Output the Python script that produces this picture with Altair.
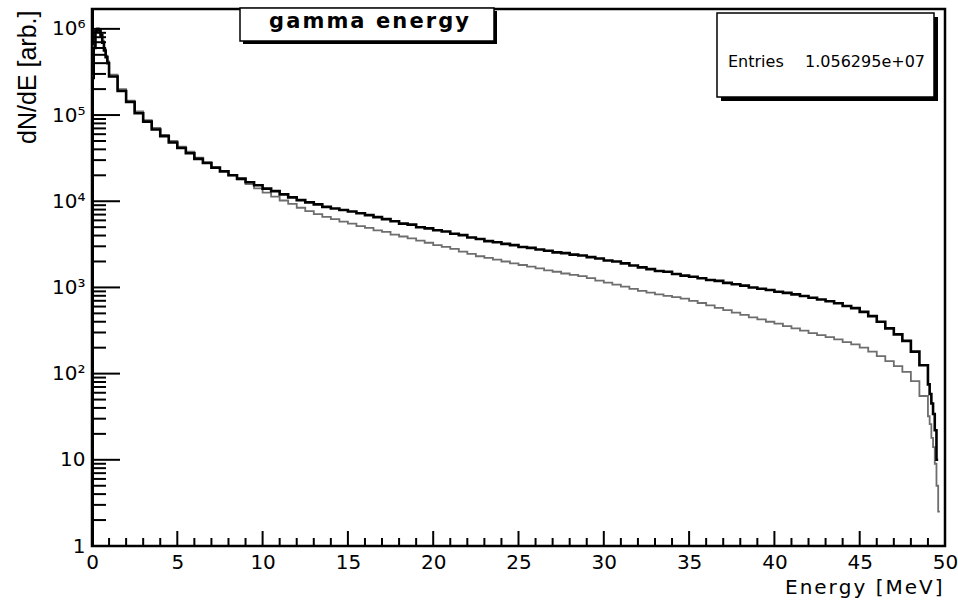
import altair as alt
import numpy as np
import pandas as pd

# ---------------- data ----------------
# bin low edges [MeV]
edges_fine = [0.0, 0.1, 0.2, 0.3, 0.4, 0.5, 0.6, 0.7, 0.8, 0.9]
edges_mid = [round(1.0 + 0.5 * i, 2) for i in range(96)]          # 1.0 ... 48.5
black_tail_edges = [49.0, 49.1, 49.2, 49.3, 49.4, 49.5]
gray_tail_edges = [49.0, 49.1, 49.2, 49.3, 49.4, 49.5, 49.6]
black_end = 49.6
gray_end = 49.7

black_fine = [2.7e5, 6.0e5, 9.4e5, 9.9e5, 9.6e5, 8.4e5, 6.9e5, 5.6e5, 4.7e5, 4.0e5]
gray_fine = [2.8e5, 6.3e5, 9.7e5, 1.02e6, 9.9e5, 8.8e5, 7.3e5, 5.9e5, 4.9e5, 4.2e5]

black_mid = [
    2.8e5, 1.9e5, 1.42e5, 1.05e5, 8.4e4, 6.8e4, 5.7e4, 4.8e4, 4.15e4, 3.6e4,
    3.1e4, 2.78e4, 2.45e4, 2.22e4, 2.0e4, 1.83e4, 1.66e4, 1.53e4, 1.4e4, 1.31e4,
    1.2e4, 1.11e4, 1.03e4, 9.7e3, 9.2e3, 8.6e3, 8.25e3, 7.9e3, 7.6e3, 7.25e3,
    6.9e3, 6.55e3, 6.2e3, 5.85e3, 5.5e3, 5.35e3, 5.0e3, 4.85e3, 4.6e3, 4.45e3,
    4.2e3, 4.05e3, 3.8e3, 3.65e3, 3.45e3, 3.35e3, 3.2e3, 3.1e3, 2.95e3, 2.88e3,
    2.75e3, 2.66e3, 2.55e3, 2.5e3, 2.4e3, 2.35e3, 2.25e3, 2.17e3, 2.05e3, 2.0e3,
    1.9e3, 1.8e3, 1.71e3, 1.63e3, 1.55e3, 1.52e3, 1.43e3, 1.37e3, 1.33e3, 1.28e3,
    1.22e3, 1.19e3, 1.13e3, 1.09e3, 1.05e3, 1.0e3, 965, 935, 890, 865,
    830, 795, 760, 725, 690, 655, 610, 575, 520, 465,
    400, 335, 285, 240, 180, 125,
]
gray_mid = [
    2.95e5, 2.0e5, 1.47e5, 1.1e5, 8.7e4, 7.1e4, 5.9e4, 5.0e4, 4.3e4, 3.75e4,
    3.2e4, 2.85e4, 2.5e4, 2.25e4, 2.0e4, 1.78e4, 1.58e4, 1.41e4, 1.26e4, 1.13e4,
    1.02e4, 9.3e3, 8.4e3, 7.7e3, 7.1e3, 6.6e3, 6.2e3, 5.8e3, 5.5e3, 5.15e3,
    4.9e3, 4.6e3, 4.4e3, 4.1e3, 3.9e3, 3.7e3, 3.5e3, 3.3e3, 3.1e3, 2.95e3,
    2.8e3, 2.6e3, 2.45e3, 2.3e3, 2.2e3, 2.1e3, 2.0e3, 1.9e3, 1.82e3, 1.74e3,
    1.66e3, 1.58e3, 1.52e3, 1.45e3, 1.4e3, 1.35e3, 1.28e3, 1.2e3, 1.14e3, 1.08e3,
    1.02e3, 960, 910, 870, 830, 800, 770, 740, 700, 660,
    620, 580, 545, 510, 480, 450, 425, 400, 380, 355,
    335, 315, 295, 280, 265, 250, 232, 218, 200, 180,
    160, 140, 122, 105, 82, 55,
]
black_tail = [75, 58, 45, 34, 22, 10]
gray_tail = [32, 26, 18, 14, 9, 5, 2.5]

x_major = [0, 5, 10, 15, 20, 25, 30, 35, 40, 45, 50]
x_minor = [i for i in range(51) if i % 5 != 0]
y_major = [1, 10, 100, 1000, 10000, 100000, 1000000]
y_minor = [m * 10 ** k for k in range(6) for m in range(2, 10)]


def step_frame(edges, values, end, name):
    xs = list(edges) + [end]
    vs = list(values) + [values[-1]]
    return pd.DataFrame({"E": xs, "v": vs, "s": name})


black_df = step_frame(edges_fine + edges_mid + black_tail_edges,
                      black_fine + black_mid + black_tail, black_end, "black")
gray_df = step_frame(edges_fine + edges_mid + gray_tail_edges,
                     gray_fine + gray_mid + gray_tail, gray_end, "gray")

W, H = 853, 537
xscale = alt.Scale(domain=[0, 50], nice=False, zero=False)
yscale = alt.Scale(type="log", domain=[1, 1.7e6], nice=False)

sup = ("datum.value < 5 ? '1' : datum.value < 50 ? '10' : datum.value < 500 ? '10\u00b2' : "
       "datum.value < 5000 ? '10\u00b3' : datum.value < 50000 ? '10\u2074' : "
       "datum.value < 500000 ? '10\u2075' : '10\u2076'")

HS = "\u200a"
xtitle = HS.join(list("Energy [MeV]"))

x_axis = alt.Axis(values=x_major, labelFontSize=20, labelFont="DejaVu Sans", labelColor="black",
                  labelPadding=6, labelFlush=False, labelOverlap=False, ticks=False, domain=False,
                  grid=False, title=xtitle, titleFont="DejaVu Sans", titleFontSize=20,
                  titleFontWeight="normal", titleColor="black", titleX=850, titleY=47,
                  titleAlign="right", titleBaseline="alphabetic", titleAnchor="end")
y_axis = alt.Axis(values=y_major, labelExpr=sup, labelFontSize=20, labelFont="DejaVu Sans",
                  labelColor="black", labelPadding=7, labelOverlap=False, labelFlush=False,
                  ticks=False, domain=True, domainColor="black", domainWidth=3, grid=False,
                  title="dN/dE [arb.]", titleFont="Liberation Sans", titleFontSize=25,
                  titleFontWeight="normal", titleColor="black", titleAngle=270,
                  titleX=-57, titleY=1, titleAlign="right", titleBaseline="alphabetic")


def X(field):
    return alt.X(field, scale=xscale, axis=x_axis)


def Y(field):
    return alt.Y(field, scale=yscale, axis=y_axis)


gray_line = alt.Chart(gray_df).mark_line(interpolate="step-after", color="#6e6e6e",
                                         strokeWidth=1.8).encode(x=X("E:Q"), y=Y("v:Q"))
black_line = alt.Chart(black_df).mark_line(interpolate="step-after", color="black",
                                           strokeWidth=2.6).encode(x=X("E:Q"), y=Y("v:Q"))

xmaj = alt.Chart(pd.DataFrame({"E": x_major})).mark_rule(color="black", strokeWidth=2).encode(
    x=X("E:Q"), y=alt.value(H), y2=alt.value(H - 15))
xmin = alt.Chart(pd.DataFrame({"E": x_minor})).mark_rule(color="black", strokeWidth=2).encode(
    x=X("E:Q"), y=alt.value(H), y2=alt.value(H - 8))
ymaj = alt.Chart(pd.DataFrame({"v": y_major})).mark_rule(color="black", strokeWidth=2).encode(
    y=Y("v:Q"), x=alt.value(0), x2=alt.value(28))
ymin = alt.Chart(pd.DataFrame({"v": y_minor})).mark_rule(color="black", strokeWidth=2).encode(
    y=Y("v:Q"), x=alt.value(0), x2=alt.value(14))

one = pd.DataFrame({"a": [0]})
# title box
tb_shadow = alt.Chart(one).mark_rect(color="black").encode(
    x=alt.value(151), x2=alt.value(405), y=alt.value(2), y2=alt.value(35))
tb_box = alt.Chart(one).mark_rect(fill="white", stroke="black", strokeWidth=1.5).encode(
    x=alt.value(148), x2=alt.value(402), y=alt.value(-1), y2=alt.value(32))
tb_text = alt.Chart(one).mark_text(text=HS.join(list("gamma energy")), font="DejaVu Sans",
                                   fontWeight="bold", fontSize=21, color="black",
                                   align="center", baseline="alphabetic").encode(
    x=alt.value(277), y=alt.value(19))
# stats box
sb_shadow = alt.Chart(one).mark_rect(color="black").encode(
    x=alt.value(629), x2=alt.value(846), y=alt.value(8), y2=alt.value(92))
sb_box = alt.Chart(one).mark_rect(fill="white", stroke="black", strokeWidth=1.5).encode(
    x=alt.value(625), x2=alt.value(842), y=alt.value(4), y2=alt.value(88))
sb_name = alt.Chart(one).mark_text(text="Entries", font="DejaVu Sans", fontSize=16,
                                   color="black", align="left", baseline="alphabetic").encode(
    x=alt.value(636), y=alt.value(58))
sb_val = alt.Chart(one).mark_text(text="1.056295e+07", font="DejaVu Sans", fontSize=16,
                                  color="black", align="right", baseline="alphabetic").encode(
    x=alt.value(833), y=alt.value(58))

chart = alt.layer(
    gray_line, black_line, xmaj, xmin, ymaj, ymin,
    tb_shadow, tb_box, tb_text, sb_shadow, sb_box, sb_name, sb_val,
).properties(
    width=W, height=H,
    autosize=alt.AutoSizeParams(type="none"),
    padding={"left": 92, "top": 9, "right": 13, "bottom": 55},
    background="white",
).configure_view(
    stroke="black", strokeWidth=2.5
)

chart.save("out.html", embed_options={"renderer": "svg", "actions": False})
